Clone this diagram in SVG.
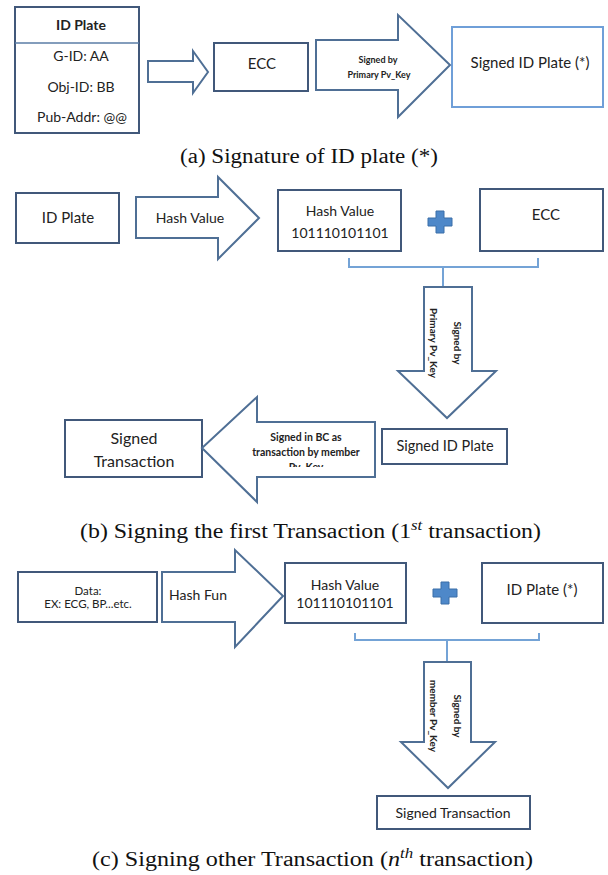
<svg xmlns="http://www.w3.org/2000/svg" width="608" height="875" viewBox="0 0 608 875">
<style>
.box{fill:#fff;stroke:#41587a;stroke-width:2}
.lbox{fill:#fff;stroke:#6f9fd8;stroke-width:2}
.arr{fill:#fff;stroke:#4f6f95;stroke-width:2;stroke-linejoin:miter}
.brk{fill:none;stroke:#74a3d6;stroke-width:2}
.plus{fill:#4e88c9;stroke:#3b6fa8;stroke-width:1}
.t{font-family:Lato,"Liberation Sans",sans-serif;fill:#222;text-anchor:middle}
.tb{font-family:Lato,"Liberation Sans",sans-serif;fill:#222;text-anchor:middle;font-weight:bold}
.cap{font-family:"Liberation Serif",serif;fill:#111;font-size:20px}
</style>
<defs>
<clipPath id="clipPv"><rect x="240" y="420" width="140" height="47"/></clipPath>
</defs>

<!-- Panel (a) -->
<g id="a-idplate">
<rect class="box" x="15" y="7" width="124" height="126"/>
<line x1="15" y1="43" x2="139" y2="43" stroke="#5a7ca6" stroke-width="1.5"/>
<text class="tb" x="81" y="30" font-size="14">ID Plate</text>
<text class="t" x="81" y="61" font-size="14">G-ID: AA</text>
<text class="t" x="81" y="92" font-size="14">Obj-ID: BB</text>
<text class="t" x="82" y="122" font-size="14">Pub-Addr: @@</text>
</g>
<g id="a-ecc">
<rect class="box" x="214" y="43" width="94" height="48"/>
<text class="t" x="262" y="69" font-size="15">ECC</text>
</g>
<g id="a-signed">
<rect class="lbox" x="452" y="27" width="151" height="80"/>
<text class="t" x="530" y="68" font-size="15">Signed ID Plate (*)</text>
</g>

<!-- Panel (b) -->
<g id="b-idplate">
<rect class="box" x="16" y="193" width="103" height="50"/>
<text class="t" x="68" y="223" font-size="15">ID Plate</text>
</g>
<g id="b-hash">
<rect class="box" x="278" y="190" width="123" height="61"/>
<text class="t" x="340" y="216" font-size="14">Hash Value</text>
<text class="t" x="340" y="238" font-size="14">101110101101</text>
</g>
<g id="b-plus">
<path class="plus" d="M436 211h8v7h8v8h-8v7h-8v-7h-8v-8h8z"/>
</g>
<g id="b-ecc">
<rect class="box" x="480" y="189" width="123" height="62"/>
<text class="t" x="546" y="220" font-size="15">ECC</text>
</g>
<g id="b-signedid">
<rect class="box" x="382" y="429" width="125" height="35"/>
<text class="t" x="445" y="451" font-size="14.5">Signed ID Plate</text>
</g>
<g id="b-signedtx">
<rect class="box" x="65" y="420" width="137" height="57"/>
<text class="t" x="134" y="444" font-size="16">Signed</text>
<text class="t" x="134" y="467" font-size="16">Transaction</text>
</g>

<!-- Panel (c) -->
<g id="c-data">
<rect class="box" x="18" y="572" width="139" height="50"/>
<text class="t" x="88" y="595" font-size="11.5">Data:</text>
<text class="t" x="88" y="608" font-size="11.5">EX: ECG, BP...etc.</text>
</g>
<g id="c-hash">
<rect class="box" x="285" y="563" width="121" height="60"/>
<text class="t" x="345" y="590" font-size="14">Hash Value</text>
<text class="t" x="345" y="608" font-size="14">101110101101</text>
</g>
<g id="c-plus">
<path class="plus" d="M441 582h8v7h8v8h-8v7h-8v-7h-8v-8h8z"/>
</g>
<g id="c-idplate">
<rect class="box" x="482" y="563" width="121" height="60"/>
<text class="t" x="542" y="595" font-size="15">ID Plate (*)</text>
</g>
<g id="c-signedtx">
<rect class="box" x="377" y="796" width="153" height="33"/>
<text class="t" x="453" y="818" font-size="14">Signed Transaction</text>
</g>

<!-- Connectors -->
<g id="connectors">
<!-- (a) -->
<polygon class="arr" points="148,61 193,61 193,51 208,72 193,93 193,82 148,82"/>
<polygon class="arr" points="316,40 398,40 398,15 450,65 398,117 398,90 316,90"/>
<text class="tb" x="378" y="63" font-size="9">Signed by</text>
<text class="tb" x="379" y="78" font-size="9">Primary Pv_Key</text>
<!-- (b) -->
<polygon class="arr" points="136,197 218,197 218,177 259,218 218,259 218,238 136,238"/>
<text class="t" x="190" y="223" font-size="14">Hash Value</text>
<path class="brk" d="M349 258V267H538V258M443 267V287"/>
<polygon class="arr" points="424,287 472,287 472,371 496,371 447,418 398,371 424,371"/>
<text class="tb" font-size="10" transform="translate(453.5,343) rotate(90)" x="0" y="0">Signed by</text>
<text class="tb" font-size="10" transform="translate(429.5,343) rotate(90)" x="0" y="0">Primary Pv_Key</text>
<polygon class="arr" points="375,422 257,422 257,397 202,448 257,502 257,477 375,477"/>
<text class="tb" x="306" y="441" font-size="10.5">Signed in BC as</text>
<text class="tb" x="306" y="456" font-size="10.5">transaction by member</text>
<text class="tb" x="306" y="471" font-size="10.5" clip-path="url(#clipPv)">Pv_Key</text>
<!-- (c) -->
<polygon class="arr" points="162,572 235,572 235,550 283,596 235,647 235,622 162,622"/>
<text class="t" x="198" y="600" font-size="14">Hash Fun</text>
<path class="brk" d="M355 633V640H539V633M447 640V662"/>
<polygon class="arr" points="424,662 471,662 471,742 495,742 448,788 401,742 424,742"/>
<text class="tb" font-size="10" transform="translate(453.5,716) rotate(90)" x="0" y="0">Signed by</text>
<text class="tb" font-size="10" transform="translate(429.5,716) rotate(90)" x="0" y="0">member Pv_Key</text>
</g>

<!-- Captions -->
<g id="captions">
<text class="cap" x="180" y="163" textLength="258" lengthAdjust="spacingAndGlyphs">(a) Signature of ID plate (*)</text>
<text class="cap" x="80" y="538" textLength="461" lengthAdjust="spacingAndGlyphs">(b) Signing the first Transaction (1<tspan font-size="14" font-style="italic" dy="-8">st</tspan><tspan dy="8"> transaction)</tspan></text>
<text class="cap" x="92" y="866" textLength="441" lengthAdjust="spacingAndGlyphs">(c) Signing other Transaction (<tspan font-style="italic">n</tspan><tspan font-size="14" font-style="italic" dy="-8">th</tspan><tspan dy="8"> transaction)</tspan></text>
</g>
</svg>
